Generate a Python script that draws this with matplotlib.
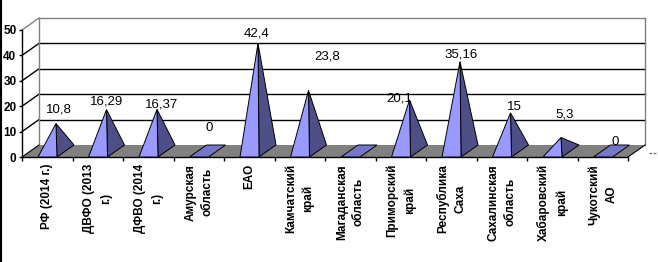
import matplotlib
matplotlib.use('Agg')
import matplotlib.pyplot as plt
from matplotlib.patches import Polygon
from matplotlib.lines import Line2D

plt.rcParams['font.family'] = ['Liberation Sans', 'DejaVu Sans']

CATEGORIES = ["РФ (2014 г.)", "ДВФО (2013\nг.)", "ДФВО (2014\nг.)", "Амурская\nобласть",
              "ЕАО", "Камчатский\nкрай", "Магаданская\nобласть", "Приморский\nкрай",
              "Республика\nСаха", "Сахалинская\nобласть", "Хабаровский\nкрай", "Чукотский\nАО"]
VALUES = [10.8, 16.29, 16.37, 0, 42.4, 23.8, None, 20.1, 35.16, 15, 5.3, 0]
LABELS = ["10,8", "16,29", "16,37", "0", "42,4", "23,8", "", "20,1", "35,16", "15", "5,3", "0"]
YTICKS = [0, 10, 20, 30, 40, 50]

# label nudges in pixels (dx right, dy up) relative to apex
LABEL_NUDGE = [(3, 14), (0, 8), (5, 5), (2, 23), (-1, 10), (19, 34),
               (0, 0), (-10, 1), (1, 7), (4, 6), (4, 23), (4, 9)]

LIGHT = "#9999ff"
DARK = "#4f4f88"
FLAT = "#7676c8"
FLOOR = "#808080"

W, H = 658, 262
n = len(CATEGORIES)
PX_X = 606 / n          # pixels per category
PX_Y = 127 / 50         # pixels per value unit
DX = 17 / PX_X          # depth offset in category units
DY = 12 / PX_Y          # depth offset in value units
B0, B1 = 16 / PX_X, 35 / PX_X   # pyramid front edge within category

fig = plt.figure(figsize=(W / 100, H / 100), dpi=100)
ax = fig.add_axes([22 / W, 105 / H, 606 / W, 127 / H])
ax.set_xlim(0, n)
ax.set_ylim(0, 50)
ax.patch.set_alpha(0)
for s in ("top", "right"):
    ax.spines[s].set_visible(False)
ax.spines["left"].set_linewidth(1)
ax.spines["bottom"].set_linewidth(1)

# back wall and side wall
for v in YTICKS[1:]:
    c = "#808080" if v == 50 else "black"
    ax.plot([DX, n + DX], [v + DY, v + DY], color=c, lw=1, clip_on=False, zorder=1)
    ax.plot([0, DX], [v, v + DY], color=c, lw=1, clip_on=False, zorder=1)
for xx in (DX, n + DX):
    ax.plot([xx, xx], [DY, 50 + DY], color="#808080", lw=1, clip_on=False, zorder=1)

# floor
ax.add_patch(Polygon([(0, 0), (n, 0), (n + DX, DY), (DX, DY)], closed=True,
                     facecolor=FLOOR, edgecolor="none", zorder=2, clip_on=False))
ax.plot([0, DX], [0, DY], color="black", lw=0.8, zorder=2, clip_on=False)
ax.plot([n, n + DX], [0, DY], color="black", lw=0.8, zorder=2, clip_on=False)

for i, v in enumerate(VALUES):
    fl, fr = i + B0, i + B1
    bl, br = fl + DX, fr + DX
    ax_x = (fl + br) / 2
    if not v:
        ax.add_patch(Polygon([(fl, 0), (fr, 0), (br, DY), (bl, DY)], closed=True,
                             facecolor=FLAT, edgecolor="black", lw=0.7, zorder=3,
                             clip_on=False))
        ay = DY / 2
    else:
        ay = v + DY / 2
        ax.add_patch(Polygon([(fr, 0), (br, DY), (ax_x, ay)], closed=True,
                             facecolor=DARK, edgecolor="black", lw=0.7, zorder=3,
                             clip_on=False))
        ax.add_patch(Polygon([(fl, 0), (fr, 0), (ax_x, ay)], closed=True,
                             facecolor=LIGHT, edgecolor="black", lw=0.7, zorder=4,
                             clip_on=False))
    if LABELS[i]:
        nx, ny = LABEL_NUDGE[i]
        ax.annotate(LABELS[i], (ax_x, ay), xytext=(nx * 0.72, ny * 0.72),
                    textcoords="offset points", ha="center", va="center",
                    fontsize=9.5, color="black", zorder=6, annotation_clip=False)

ax.set_yticks(YTICKS)
ax.set_yticklabels([str(t) for t in YTICKS], fontsize=8.5, fontweight="bold")
ax.tick_params(axis="y", direction="out", length=2.5, width=1, pad=1.5)

ax.set_xticks([i + 0.5 for i in range(n)])
ax.set_xticklabels(CATEGORIES, rotation=90, ha="center", va="top",
                   fontsize=8.5, fontweight="bold", linespacing=1.55)
for t in ax.get_xticklabels():
    t.set_multialignment("center")
ax.set_xticks(range(n + 1), minor=True)
ax.tick_params(axis="x", which="major", length=0, pad=5)
ax.tick_params(axis="x", which="minor", direction="out", length=3, width=1)

# left frame line and tiny legend mark
fig.add_artist(Line2D([1 / W, 1 / W], [0, 1], color="black", lw=1.5))
fig.add_artist(Line2D([649 / W, 657 / W], [109 / H, 109 / H], color="#7a6a8a",
                      lw=1, ls=(0, (2, 1))))

fig.savefig("out.png", dpi=100)
